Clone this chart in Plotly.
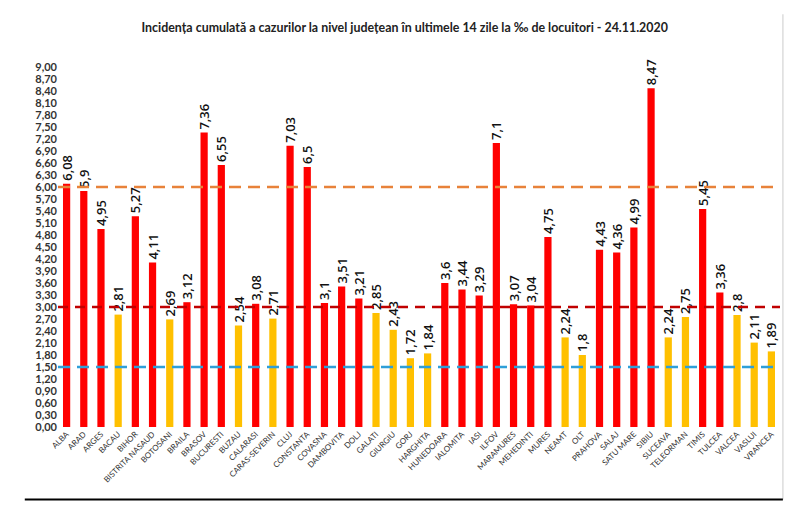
import plotly.graph_objects as go

judete = ['ALBA', 'ARAD', 'ARGES', 'BACAU', 'BIHOR', 'BISTRITA NASAUD', 'BOTOSANI',
          'BRAILA', 'BRASOV', 'BUCURESTI', 'BUZAU', 'CALARASI', 'CARAS-SEVERIN', 'CLUJ',
          'CONSTANTA', 'COVASNA', 'DAMBOVITA', 'DOLJ', 'GALATI', 'GIURGIU', 'GORJ',
          'HARGHITA', 'HUNEDOARA', 'IALOMITA', 'IASI', 'ILFOV', 'MARAMURES', 'MEHEDINTI',
          'MURES', 'NEAMT', 'OLT', 'PRAHOVA', 'SALAJ', 'SATU MARE', 'SIBIU', 'SUCEAVA',
          'TELEORMAN', 'TIMIS', 'TULCEA', 'VALCEA', 'VASLUI', 'VRANCEA']
incidenta = [6.08, 5.9, 4.95, 2.81, 5.27, 4.11, 2.69, 3.12, 7.36, 6.55, 2.54, 3.08,
             2.71, 7.03, 6.5, 3.1, 3.51, 3.21, 2.85, 2.43, 1.72, 1.84, 3.6, 3.44,
             3.29, 7.1, 3.07, 3.04, 4.75, 2.24, 1.8, 4.43, 4.36, 4.99, 8.47, 2.24,
             2.75, 5.45, 3.36, 2.8, 2.11, 1.89]
praguri = [6, 3, 1.5]

# colors -------------------------------------------------------------
RED = '#FF0000'
YELLOW = '#FFC000'
line_colors = ['#E8823A', '#C00000', '#2F9FD8']
line_dashes = ['12px,7px', '10px,7px', '12px,7px']

bar_colors = [RED if v >= 3 else YELLOW for v in incidenta]
labels = [f'{v:g}'.replace('.', ',') for v in incidenta]

trace = go.Bar(
    x=judete, y=incidenta,
    marker=dict(color=bar_colors, line=dict(width=0)),
    text=labels, textposition='outside', textangle=-90,
    constraintext='none',
    textfont=dict(family='Open Sans, sans-serif', size=13, color='#111111', weight=600),
    cliponaxis=False,
)

# page has an 8px body margin, so the figure is a bit smaller than the window
layout = go.Layout(
    template='plotly_white',
    width=784, height=501,
    margin=dict(l=50, r=12, t=57, b=82),
    separators=',.',
    showlegend=False,
    bargap=0.58,
    title=dict(
        text='<b>Incidența cumulată a cazurilor la nivel județean în ultimele 14 zile la ‰ de locuitori - 24.11.2020</b>',
        x=0.506, xanchor='center', y=0.96, yanchor='middle',
        font=dict(family='Lato, sans-serif', size=12.4, color='#222222'),
    ),
    xaxis=dict(
        showgrid=False, showline=False, ticks='',
        tickangle=-45, automargin=False,
        tickfont=dict(family='Liberation Sans Narrow, Lato, sans-serif', size=8, color='#333333'),
    ),
    yaxis=dict(
        range=[0, 9.05], dtick=0.3, tick0=0, tickformat='.2f',
        showgrid=False, showline=False, zeroline=False, ticks='',
        automargin=False,
        tickfont=dict(family='Lato, sans-serif', size=11, color='#333333', weight='bold'),
    ),
    plot_bgcolor='white', paper_bgcolor='white',
)

fig = go.Figure([trace], layout)

for level, c, d in zip(praguri, line_colors, line_dashes):
    fig.add_shape(type='line', xref='paper', yref='y', x0=0, x1=1, y0=level, y1=level,
                  line=dict(color=c, width=2.5, dash=d), layer='above')

# frame around the chart
fig.add_shape(type='line', xref='paper', yref='paper', x0=1.004, x1=1.004, y0=-0.2, y1=1.14,
              line=dict(color='#DDDDDD', width=1.5))
fig.add_shape(type='line', xref='paper', yref='paper', x0=-0.046, x1=1.004, y0=-0.2, y1=-0.2,
              line=dict(color='black', width=2))

fig.write_html("out.html")
